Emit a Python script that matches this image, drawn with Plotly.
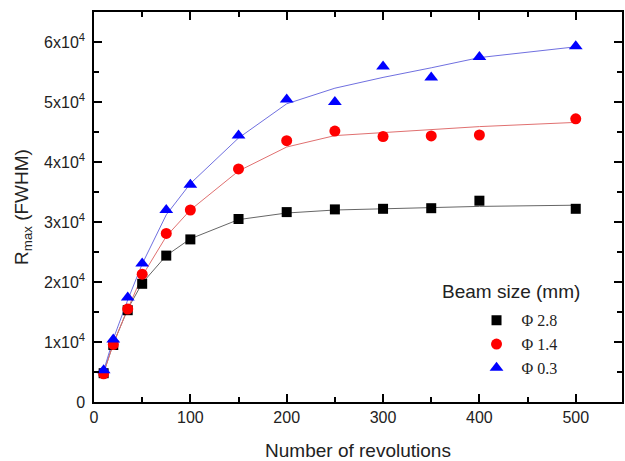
import plotly.graph_objects as go

revolutions = [10, 20, 35, 50, 75, 100, 150, 200, 250, 300, 350, 400, 500]

r_28 = [4800, 9500, 15300, 19700, 24400, 27100, 30500, 31650, 32100, 32200, 32300, 33550, 32200]
r_14 = [4700, 9600, 15500, 21300, 28100, 32000, 38850, 43550, 45150, 44250, 44350, 44500, 47200]
r_03 = [5300, 10400, 17400, 23100, 32000, 36200, 44400, 50400, 50000, 55900, 54100, 57500, 59300]

fit_28 = [4900, 9700, 15500, 19800, 24400, 27200, 30400, 31500, 32000, 32200, 32400, 32600, 32800]
fit_14 = [4800, 9700, 15500, 21000, 27600, 32000, 38500, 42500, 44400, 44900, 45400, 45900, 46600]
fit_03 = [5200, 10500, 17000, 23000, 31200, 36400, 44000, 49700, 52300, 54100, 55700, 57400, 59200]

series_names = ["\u03a6 2.8", "\u03a6 1.4", "\u03a6 0.3"]
marker_colors = ["#000000", "#ff0000", "#0000ff"]
line_colors = ["#666666", "#e07070", "#7070e0"]
symbols = ["square", "circle", "triangle-up"]
marker_sizes = [10, 11, 12]

y_tickvals = [0, 10000, 20000, 30000, 40000, 50000, 60000]
y_ticktext = ["0"] + [f"{i}x10<sup>4</sup>" for i in range(1, 7)]
x_tickvals = [0, 100, 200, 300, 400, 500]

fig = go.Figure()
for fit, col in zip([fit_28, fit_14, fit_03], line_colors):
    fig.add_trace(go.Scatter(x=revolutions, y=fit, mode="lines",
                             line=dict(color=col, width=1), showlegend=False,
                             hoverinfo="skip"))
for vals, name, col, sym, sz in zip([r_28, r_14, r_03], series_names, marker_colors, symbols, marker_sizes):
    fig.add_trace(go.Scatter(x=revolutions, y=vals, mode="markers", name=name,
                             marker=dict(color=col, symbol=sym, size=sz, line=dict(width=0))))

axis_common = dict(showline=True, linecolor="black", linewidth=1.5, mirror="ticks",
                   ticks="inside", ticklen=8, tickwidth=1.5, tickcolor="black",
                   showgrid=False, zeroline=False,
                   tickfont=dict(family="Liberation Sans, Arial", size=16, color="#222"))

fig.update_layout(
    width=625, height=461,
    margin=dict(l=94, r=1, t=12, b=59),
    plot_bgcolor="white", paper_bgcolor="white",
    xaxis=dict(range=[0, 548], tickvals=x_tickvals,
               minor=dict(ticks="inside", dtick=50, tick0=0, ticklen=5, tickwidth=1.5, tickcolor="black"),
               title=dict(text="Number of revolutions", font=dict(family="Liberation Sans, Arial", size=19, color="#222"), standoff=20),
               **axis_common),
    yaxis=dict(range=[0, 65000], tickvals=y_tickvals, ticktext=y_ticktext,
               ticklabelstandoff=4,
               minor=dict(ticks="inside", dtick=5000, tick0=0, ticklen=5, tickwidth=1.5, tickcolor="black"),
               title=dict(text="R<sub>max</sub> (FWHM)", font=dict(family="Liberation Sans, Arial", size=19, color="#222"), standoff=10),
               **axis_common),
    legend=dict(x=0.715, y=0.253, xanchor="left", yanchor="top",
                bgcolor="rgba(0,0,0,0)", itemwidth=40,
                font=dict(family="Liberation Serif, Times New Roman", size=16, color="#222"),
                tracegroupgap=0),
    annotations=[dict(text="Beam size (mm)", xref="paper", yref="paper", x=0.656, y=0.283,
                      xanchor="left", yanchor="middle", showarrow=False,
                      font=dict(family="Liberation Sans, Arial", size=19, color="#222"))],
)

fig.write_html("out.html")
